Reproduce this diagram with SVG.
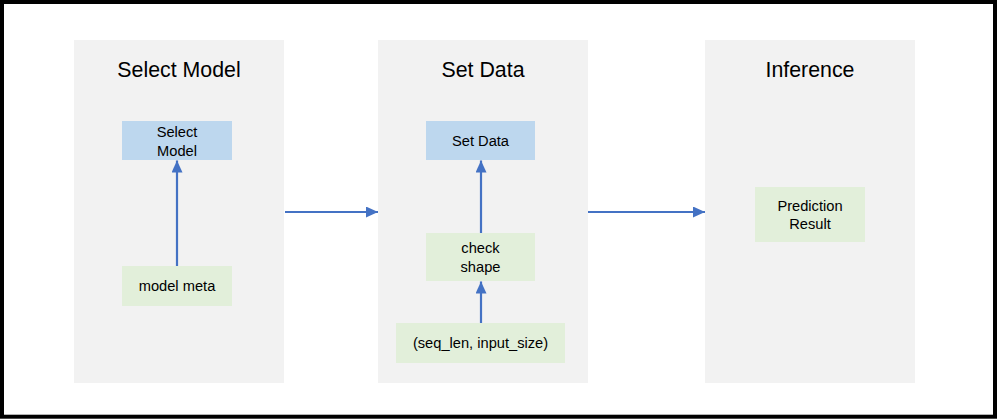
<svg xmlns="http://www.w3.org/2000/svg" width="997" height="419" viewBox="0 0 997 419">
<style>
.panel{fill:#F2F2F2;}
.blue{fill:#BDD7EE;}
.green{fill:#E2EFDA;}
.title{font-family:"Liberation Sans",Arial,sans-serif;font-size:21.33px;fill:#000;text-anchor:middle;}
.lbl{font-family:"Liberation Sans",Arial,sans-serif;font-size:14.67px;fill:#000;text-anchor:middle;}
.conn{stroke:#4472C4;stroke-width:2.2;fill:none;marker-end:url(#ah);}
</style>
<defs>
<marker id="ah" markerUnits="userSpaceOnUse" markerWidth="13" markerHeight="12" refX="12" refY="5.5" orient="auto">
<path d="M0,0 L12,5.5 L0,11 Z" fill="#4472C4"/>
</marker>
</defs>
<rect x="0" y="0" width="997" height="419" fill="#FFFFFF"/>
<rect x="2" y="2" width="993" height="414.7" fill="none" stroke="#000" stroke-width="4"/>

<g id="panel-select-model">
<rect class="panel" x="74" y="40" width="210" height="343"/>
<text class="title" x="179" y="77">Select Model</text>
</g>
<g id="panel-set-data">
<rect class="panel" x="378" y="40" width="210" height="343"/>
<text class="title" x="483" y="77">Set Data</text>
</g>
<g id="panel-inference">
<rect class="panel" x="705" y="40" width="210" height="343"/>
<text class="title" x="810" y="77">Inference</text>
</g>

<g id="node-select-model">
<rect class="blue" x="122" y="121" width="110" height="39"/>
<text class="lbl" x="177" y="136.5">Select</text>
<text class="lbl" x="177" y="155.5">Model</text>
</g>
<g id="node-model-meta">
<rect class="green" x="122" y="266" width="110" height="40"/>
<text class="lbl" x="177" y="291">model meta</text>
</g>
<g id="node-set-data">
<rect class="blue" x="426" y="121" width="109" height="39"/>
<text class="lbl" x="480.5" y="145.5">Set Data</text>
</g>
<g id="node-check-shape">
<rect class="green" x="426" y="233" width="109" height="48"/>
<text class="lbl" x="480.5" y="252.5">check</text>
<text class="lbl" x="480.5" y="271.5">shape</text>
</g>
<g id="node-seq">
<rect class="green" x="396" y="323" width="169" height="40"/>
<text class="lbl" x="480.5" y="348">(seq_len, input_size)</text>
</g>
<g id="node-prediction">
<rect class="green" x="755" y="187" width="110" height="55"/>
<text class="lbl" x="810" y="210.5">Prediction</text>
<text class="lbl" x="810" y="229">Result</text>
</g>

<g id="connectors">
<line class="conn" x1="177" y1="266" x2="177" y2="160.5"/>
<line class="conn" x1="481" y1="233" x2="481" y2="160.5"/>
<line class="conn" x1="481" y1="323" x2="481" y2="281.5"/>
<line class="conn" x1="285" y1="212" x2="378" y2="212"/>
<line class="conn" x1="588" y1="212" x2="705" y2="212"/>
</g>
</svg>
